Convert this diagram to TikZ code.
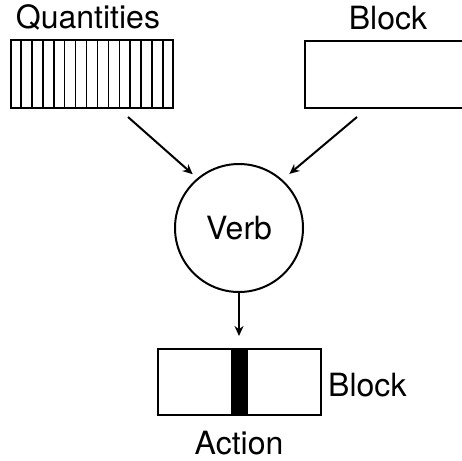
\documentclass[tikz,border=0pt]{standalone}
\usepackage{fontspec}
\setmainfont{TeX Gyre Heros}
\usetikzlibrary{arrows.meta,calc}
\begin{document}
\begin{tikzpicture}[x=1pt,y=-1pt,
  lbl/.style={font=\fontsize{32}{38}\selectfont, inner sep=0pt},
  boxst/.style={draw, line width=2pt, inner sep=0pt},
  arr/.style={line width=2pt, -{Stealth[length=10pt,width=9pt]}}]
\useasboundingbox (0,0) rectangle (462,460);
% Quantities striped box
\node[boxst, minimum width=162pt, minimum height=67pt] (quant) at (92,74) {};
\foreach \i in {1,...,14}
  \draw[line width=1.6pt] ($(quant.north west)!\i/15!(quant.north east)$) -- ($(quant.south west)!\i/15!(quant.south east)$);
\node[lbl, anchor=base] (qlbl) at (88,29) {Quantities};
% Block box (top right)
\node[boxst, minimum width=165pt, minimum height=67pt] (blk) at (387.5,74.5) {};
\node[lbl, anchor=base] (blbl) at (388,30) {Block};
% Verb circle
\node[draw, circle, line width=2pt, minimum size=128pt, inner sep=0pt, font=\fontsize{32}{38}\selectfont] (verb) at (239,228) {Verb};
% Action box
\node[boxst, minimum width=163pt, minimum height=66pt] (act) at (239.5,382) {};
\fill ([xshift=-8.5pt]act.north) rectangle ([xshift=8.5pt]act.south);
\node[lbl, anchor=base west] (blbl2) at (328,396) {Block};
\node[lbl, anchor=base] (albl) at (239,454) {Action};
% connectors
\coordinate (qa) at (128,117);
\coordinate (ba) at (357,117);
\draw[arr, shorten >=6pt] (qa) -- (verb.130);
\draw[arr, shorten >=9pt] (ba) -- (verb.48);
\draw[arr, shorten >=12pt] (verb.south) -- (act.north -| verb.south);
\end{tikzpicture}
\end{document}
